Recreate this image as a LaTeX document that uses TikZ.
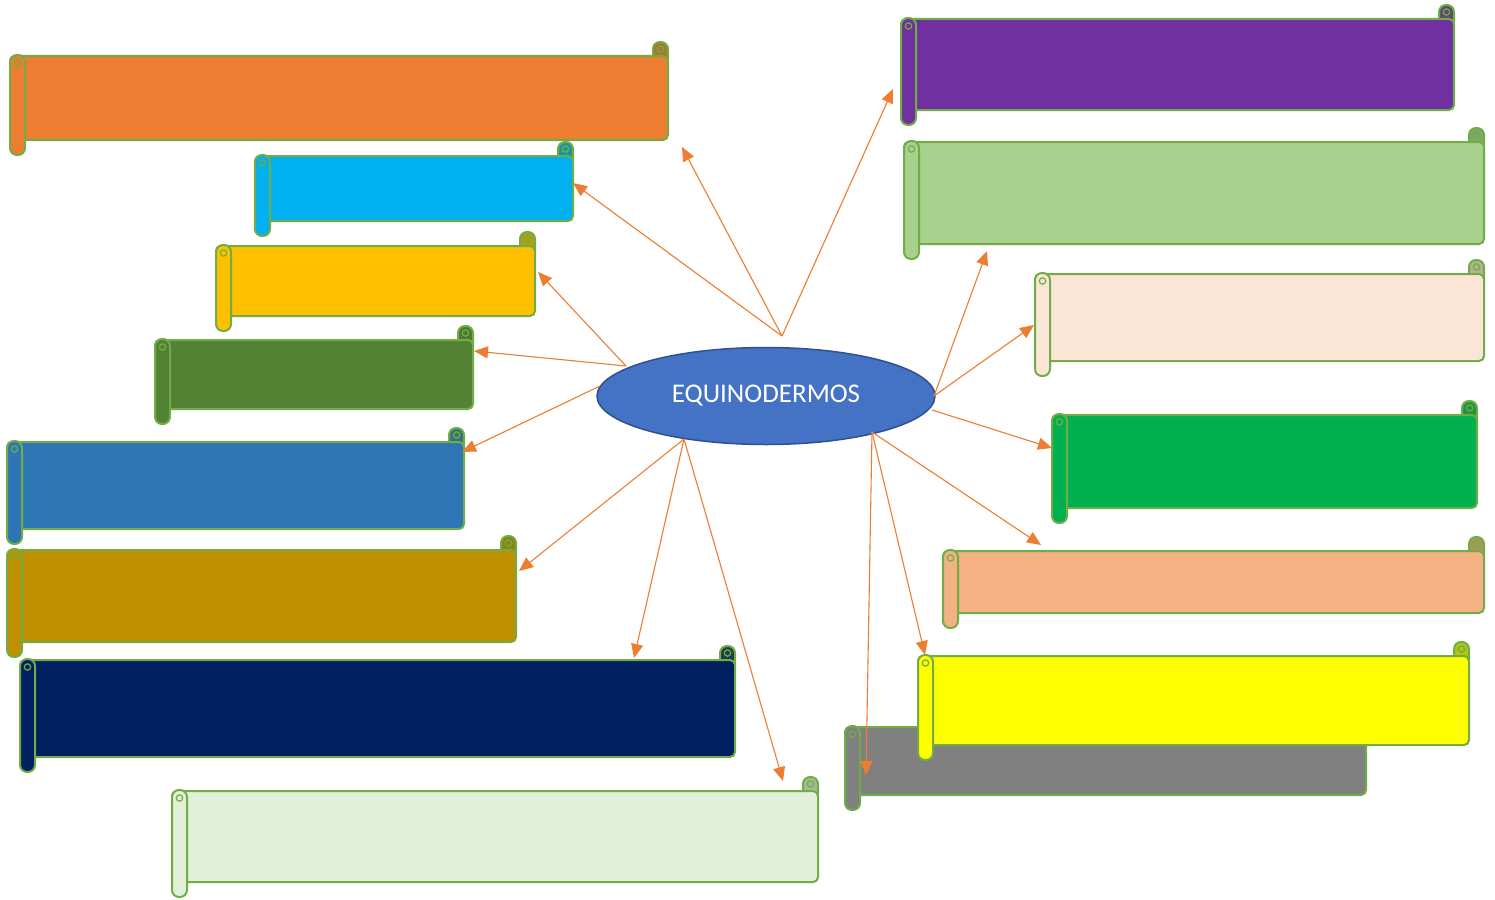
\documentclass[tikz,border=0pt]{standalone}
\usepackage{fontspec}
\newfontfamily\calib{Carlito}
\usetikzlibrary{arrows.meta,shapes.geometric}
\definecolor{outl}{HTML}{70AD47}
\definecolor{arr}{HTML}{ED7D31}
\definecolor{cOrange}{HTML}{ED7D31}
\definecolor{cCyan}{HTML}{00B0F0}
\definecolor{cGold}{HTML}{FFC000}
\definecolor{cDkGreen}{HTML}{548235}
\definecolor{cBlue}{HTML}{2E75B6}
\definecolor{cDkYellow}{HTML}{BF9000}
\definecolor{cNavy}{HTML}{002060}
\definecolor{cPale}{HTML}{E2F0D9}
\definecolor{cPurple}{HTML}{7030A0}
\definecolor{cLtGreen}{HTML}{A9D18E}
\definecolor{cPeach}{HTML}{FBE5D6}
\definecolor{cGreen}{HTML}{00B050}
\definecolor{cSalmon}{HTML}{F4B183}
\definecolor{cGray}{HTML}{808080}
\definecolor{cYellow}{HTML}{FFFF00}
\definecolor{ellFill}{HTML}{4472C4}
\definecolor{ellLine}{HTML}{2F528F}
\tikzset{
  scrollline/.style={draw=outl, line width=2pt},
  conn/.style={draw=arr, line width=1.1pt, -{Triangle[length=14pt,width=12pt]}},
}
% #1 colour, #2 x1, #3 y1, #4 x2, #5 y2 (body, pixel coords, y downward)
\newcommand{\scrollbox}[5]{%
  \filldraw[scrollline, fill=#1!70!outl!85!black, rounded corners=7pt] ({#4-15},{#3-14}) rectangle (#4,{#3+10});
  \draw[outl, line width=1.2pt] ({#4-7.5},{#3-7}) circle (3.2pt);
  \filldraw[scrollline, fill=#1, rounded corners=5pt] (#2,#3) rectangle (#4,#5);
  \filldraw[scrollline, fill=#1, rounded corners=7pt] (#2,{#3-1}) rectangle ({#2+15},{#5+15});
  \draw[outl, line width=1.2pt] ({#2+7.5},{#3+7}) circle (3.2pt);
}
\begin{document}
\begin{tikzpicture}[x=1pt,y=-1pt]
\fill[white] (0,0) rectangle (1495,899);
\useasboundingbox (0,0) rectangle (1495,899);
% left scrolls
\scrollbox{cOrange}{10}{56}{668}{140}
\scrollbox{cCyan}{255}{156}{573}{221}
\scrollbox{cGold}{216}{246}{535}{316}
\scrollbox{cDkGreen}{155}{340}{473}{409}
\scrollbox{cBlue}{7}{442}{464}{529}
\scrollbox{cDkYellow}{7}{550}{516}{642}
\scrollbox{cNavy}{20}{660}{735}{757}
\scrollbox{cPale}{172}{791}{818}{882}
% right scrolls
\scrollbox{cPurple}{901}{19}{1454}{110}
\scrollbox{cLtGreen}{904}{142}{1484}{244}
\scrollbox{cPeach}{1035}{274}{1484}{361}
\scrollbox{cGreen}{1052}{415}{1477}{508}
\scrollbox{cSalmon}{943}{551}{1484}{613}
\scrollbox{cGray}{845}{727}{1366}{795}
\scrollbox{cYellow}{918}{656}{1469}{745}
% centre
\node[ellipse, draw=ellLine, line width=1.5pt, fill=ellFill, minimum width=338pt, minimum height=97pt, inner sep=0pt,
      text=white, font=\calib\fontsize{27}{30}\selectfont] (eq) at (766,396) {EQUINODERMOS};
% arrow origins
\coordinate (oT) at (782,336);
\coordinate (oL) at (626,366);
\coordinate (oLL) at (600,386);
\coordinate (oB) at (684,439);
\coordinate (oR) at (934,396);
\coordinate (oRL) at (932,410);
\coordinate (oBR) at (872,432);
% arrow tips
\coordinate (tOrange) at (682,147);
\coordinate (tPurple) at (893,89);
\coordinate (tCyan) at (573,183);
\coordinate (tGold) at (538,272);
\coordinate (tDkGreen) at (474,351);
\coordinate (tBlue) at (462,452);
\coordinate (tDkYellow) at (519,571);
\coordinate (tNavy) at (634,658);
\coordinate (tPale) at (783,781);
\coordinate (tLtGreen) at (987,251);
\coordinate (tPeach) at (1034,325);
\coordinate (tGreen) at (1052,448);
\coordinate (tSalmon) at (1041,545);
\coordinate (tYellow) at (925,655);
\coordinate (tGray) at (866,775);
\draw[conn] (oT) -- (tOrange);
\draw[conn] (oT) -- (tPurple);
\draw[conn] (oT) -- (tCyan);
\draw[conn] (oL) -- (tGold);
\draw[conn] (oL) -- (tDkGreen);
\draw[conn] (oLL) -- (tBlue);
\draw[conn] (oB) -- (tDkYellow);
\draw[conn] (oB) -- (tNavy);
\draw[conn] (oB) -- (tPale);
\draw[conn] (oR) -- (tLtGreen);
\draw[conn] (oR) -- (tPeach);
\draw[conn] (oRL) -- (tGreen);
\draw[conn] (oBR) -- (tSalmon);
\draw[conn] (oBR) -- (tYellow);
\draw[conn] (oBR) -- (tGray);
\end{tikzpicture}
\end{document}
